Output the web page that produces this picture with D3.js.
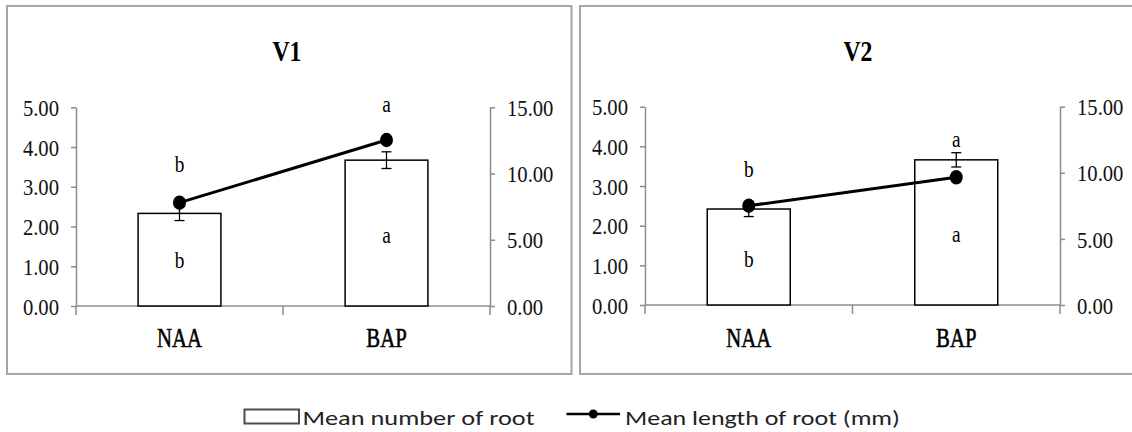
<!DOCTYPE html>
<html>
<head>
<meta charset="utf-8">
<script src="https://cdn.jsdelivr.net/npm/d3@7"></script>
<style>
  html, body { margin: 0; padding: 0; background: #fff; }
  svg { display: block; }
</style>
</head>
<body>
<svg id="chart" width="1132" height="432"></svg>
<script>
// ---------- DATA ----------
const categories = ["NAA", "BAP"];
const panelTitles = ["V1", "V2"];

// Mean number of root (left axis) and its error
const rootNumberV1 = [2.33, 3.67];
const rootNumberErrV1 = [0.18, 0.21];
const rootNumberV2 = [2.42, 3.66];
const rootNumberErrV2 = [0.19, 0.18];

// Mean length of root, mm (right axis)
const rootLengthV1 = [7.80, 12.53];
const rootLengthV2 = [7.51, 9.66];

// Significance letters: above (length) and inside bars (number)
const lengthLettersV1 = ["b", "a"];
const numberLettersV1 = ["b", "a"];
const lengthLettersV2 = ["b", "a"];
const numberLettersV2 = ["b", "a"];
// letter anchor heights in left-axis units
const lengthLetterPosV1 = [3.38, 4.89];
const numberLetterPosV1 = [0.96, 1.59];
const lengthLetterPosV2 = [3.23, 3.98];
const numberLetterPosV2 = [0.97, 1.58];

const leftTicks = [0, 1, 2, 3, 4, 5];
const rightTicks = [0, 5, 10, 15];
const legendLabels = ["Mean number of root", "Mean length of root (mm)"];

// ---------- LAYOUT ----------
const panels = [
  { title: panelTitles[0], num: rootNumberV1, err: rootNumberErrV1, len: rootLengthV1,
    topL: lengthLettersV1, botL: numberLettersV1, topP: lengthLetterPosV1, botP: numberLetterPosV1,
    frame: [7, 6, 571.5, 374], x0: 76, x1: 490, yTop: 107.3, yBot: 306, titleX: 287 },
  { title: panelTitles[1], num: rootNumberV2, err: rootNumberErrV2, len: rootLengthV2,
    topL: lengthLettersV2, botL: numberLettersV2, topP: lengthLetterPosV2, botP: numberLetterPosV2,
    frame: [580, 6, 1134, 374], x0: 645, x1: 1060, yTop: 106.7, yBot: 305, titleX: 858 }
];

const svg = d3.select("#chart");
const serif = "'Liberation Serif', 'Times New Roman', serif";
const sans = "Carlito, Calibri, Lato, 'Open Sans', sans-serif";
const axisColor = "#8c8c8c";

function squeeze(sel, ratio) {
  sel.each(function () {
    const w = this.getComputedTextLength();
    this.setAttribute("textLength", w * ratio);
    this.setAttribute("lengthAdjust", "spacingAndGlyphs");
  });
}
function fitWidth(sel, width) {
  sel.attr("textLength", width).attr("lengthAdjust", "spacingAndGlyphs");
}

svg.append("rect").attr("width", 1132).attr("height", 432).attr("fill", "#fff");

panels.forEach(p => {
  const [fx0, fy0, fx1, fy1] = p.frame;
  svg.append("rect")
    .attr("x", fx0).attr("y", fy0)
    .attr("width", fx1 - fx0).attr("height", fy1 - fy0)
    .attr("fill", "#fff").attr("stroke", "#a6a6a6").attr("stroke-width", 2);

  const g = svg.append("g");

  const x = d3.scaleBand().domain(categories).range([p.x0, p.x1]).padding(0);
  const yL = d3.scaleLinear().domain([0, 5]).range([p.yBot, p.yTop]);
  const yR = d3.scaleLinear().domain([0, 15]).range([p.yBot, p.yTop]);
  const bw = x.bandwidth();
  const cx = c => x(c) + bw / 2;

  // title
  const t = g.append("text")
    .attr("x", p.titleX).attr("y", 60.5)
    .attr("text-anchor", "middle")
    .attr("font-family", serif).attr("font-weight", "bold")
    .attr("font-size", 30).attr("fill", "#000")
    .text(p.title);
  squeeze(t, 0.79);

  // left axis
  const axL = g.append("g").attr("transform", `translate(${p.x0},0)`)
    .call(d3.axisLeft(yL).tickValues(leftTicks).tickFormat(d3.format(".2f"))
      .tickSize(5).tickSizeOuter(0).tickPadding(12));
  // right axis
  const axR = g.append("g").attr("transform", `translate(${p.x1},0)`)
    .call(d3.axisRight(yR).tickValues(rightTicks).tickFormat(d3.format(".2f"))
      .tickSize(5).tickSizeOuter(0).tickPadding(12));
  [axL, axR].forEach(ax => {
    ax.select(".domain").attr("stroke", axisColor).attr("stroke-width", 1.5);
    ax.selectAll(".tick line").attr("stroke", axisColor).attr("stroke-width", 1.5);
    const tx = ax.selectAll(".tick text")
      .attr("font-family", serif).attr("font-size", 24).attr("fill", "#111")
      .attr("dy", "0.34em");
    squeeze(tx, 0.86);
  });

  // x axis line + ticks at band boundaries
  g.append("line")
    .attr("x1", p.x0).attr("x2", p.x1).attr("y1", p.yBot).attr("y2", p.yBot)
    .attr("stroke", axisColor).attr("stroke-width", 1.5);
  const edges = categories.map(c => x(c)).concat([x(categories[categories.length - 1]) + bw]);
  g.selectAll(".xtick").data(edges).enter().append("line")
    .attr("x1", d => d).attr("x2", d => d)
    .attr("y1", p.yBot).attr("y2", p.yBot + 9)
    .attr("stroke", axisColor).attr("stroke-width", 1.5);

  // category labels
  const cl = g.selectAll(".cat").data(categories).enter().append("text")
    .attr("x", d => cx(d)).attr("y", 346.5)
    .attr("text-anchor", "middle")
    .attr("font-family", serif)
    .attr("font-size", 28).attr("fill", "#000")
    .attr("stroke", "#000").attr("stroke-width", 0.6)
    .text(d => d);
  squeeze(cl, 0.74);

  // bars
  g.selectAll(".bar").data(categories).enter().append("rect")
    .attr("x", d => x(d) + bw * 0.3)
    .attr("width", bw * 0.4)
    .attr("y", (d, i) => yL(p.num[i]))
    .attr("height", (d, i) => yL(0) - yL(p.num[i]))
    .attr("fill", "#fff").attr("stroke", "#000").attr("stroke-width", 1.5);

  // error bars
  categories.forEach((c, i) => {
    const lo = yL(p.num[i] - p.err[i]), hi = yL(p.num[i] + p.err[i]);
    g.append("line").attr("x1", cx(c)).attr("x2", cx(c)).attr("y1", lo).attr("y2", hi)
      .attr("stroke", "#000").attr("stroke-width", 1.3);
    [lo, hi].forEach(yy => g.append("line")
      .attr("x1", cx(c) - 5).attr("x2", cx(c) + 5).attr("y1", yy).attr("y2", yy)
      .attr("stroke", "#000").attr("stroke-width", 1.3));
  });

  // line series (right axis)
  const line = d3.line().x((d, i) => cx(categories[i])).y(d => yR(d));
  g.append("path").datum(p.len).attr("d", line)
    .attr("fill", "none").attr("stroke", "#000").attr("stroke-width", 3);
  g.selectAll(".pt").data(p.len).enter().append("ellipse")
    .attr("cx", (d, i) => cx(categories[i])).attr("cy", d => yR(d))
    .attr("rx", 6.5).attr("ry", 7.2).attr("fill", "#000");

  // letters
  const letters = [];
  categories.forEach((c, i) => {
    letters.push({ c, t: p.topL[i], v: p.topP[i] });
    letters.push({ c, t: p.botL[i], v: p.botP[i] });
  });
  const lt = g.selectAll(".lt").data(letters).enter().append("text")
    .attr("x", d => cx(d.c)).attr("y", d => yL(d.v))
    .attr("text-anchor", "middle")
    .attr("font-family", serif).attr("font-size", 23).attr("fill", "#000")
    .text(d => d.t);
  squeeze(lt, 0.84);
});

// ---------- LEGEND ----------
const lg = svg.append("g");
lg.append("rect").attr("x", 244.5).attr("y", 409.5).attr("width", 54.5).attr("height", 14)
  .attr("fill", "#fff").attr("stroke", "#4d4d4d").attr("stroke-width", 2);
const l1 = lg.append("text").attr("x", 302.5).attr("y", 424.5)
  .attr("font-family", sans).attr("font-size", 21).attr("fill", "#222")
  .text(legendLabels[0]);
fitWidth(l1, 232);
lg.append("line").attr("x1", 566.5).attr("x2", 620).attr("y1", 414).attr("y2", 414)
  .attr("stroke", "#000").attr("stroke-width", 2.5);
lg.append("circle").attr("cx", 593.3).attr("cy", 414).attr("r", 4.5).attr("fill", "#000");
const l2 = lg.append("text").attr("x", 625).attr("y", 424.5)
  .attr("font-family", sans).attr("font-size", 21).attr("fill", "#222")
  .text(legendLabels[1]);
fitWidth(l2, 275);
</script>
</body>
</html>
